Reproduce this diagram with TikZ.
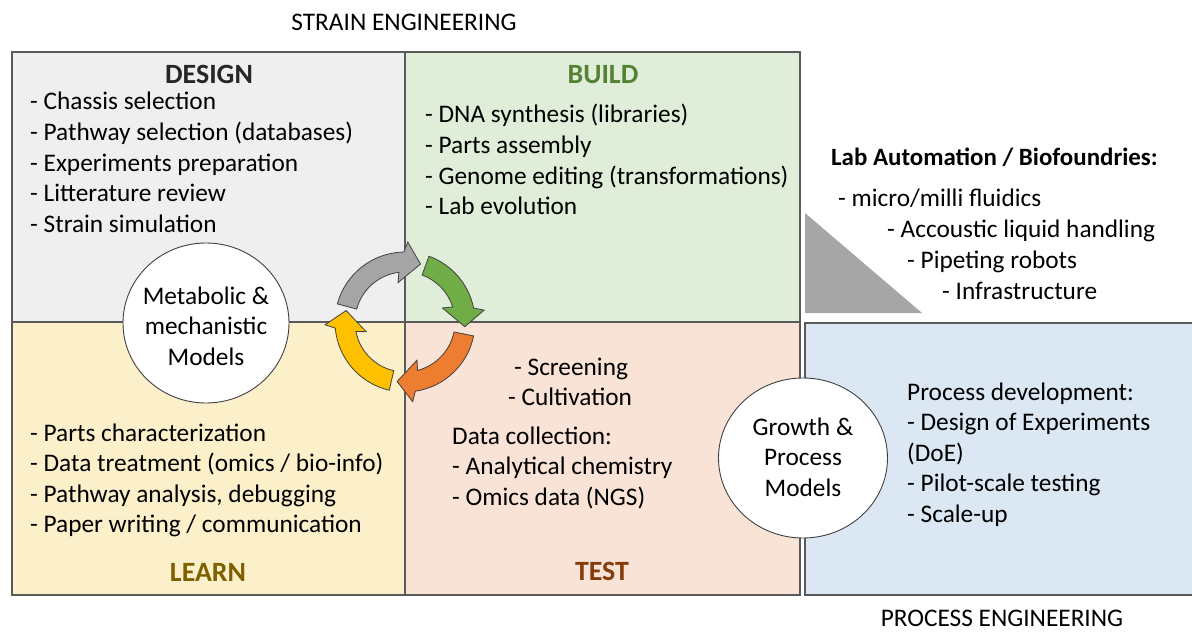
\documentclass[tikz,border=0pt]{standalone}
\usepackage{fontspec}
\setmainfont{Carlito}
\usetikzlibrary{calc,shapes.geometric}
\definecolor{designfill}{HTML}{EFEFEF}
\definecolor{buildfill}{HTML}{E0EDD8}
\definecolor{learnfill}{HTML}{FCF0CB}
\definecolor{testfill}{HTML}{F8E3D6}
\definecolor{procfill}{HTML}{DBE7F3}
\definecolor{framec}{HTML}{5A5A5A}
\definecolor{buildc}{HTML}{548235}
\definecolor{learnc}{HTML}{7F6000}
\definecolor{testc}{HTML}{843C0C}
\definecolor{trigray}{HTML}{A6A6A6}
\definecolor{agray}{HTML}{A5A5A5}
\definecolor{agreen}{HTML}{70AD47}
\definecolor{aorange}{HTML}{ED7D31}
\definecolor{ayellow}{HTML}{FFC000}
\newcommand\cycarr[3]{%
  \pgfmathsetmacro\ob{#3-13}%
  \pgfmathsetmacro\bo{#3-16}%
  \pgfmathsetmacro\ib{#3-25}%
  \pgfmathsetmacro\bi{#3-22}%
  \filldraw[cycstyle, fill=#1] ($(C)+(#2:70)$) arc[start angle=#2, end angle=\bo, radius=70]
    -- ($(C)+(\ob:80)$) -- ($(C)+(#3:60)$) -- ($(C)+(\ib:40)$) -- ($(C)+(\bi:50)$)
    arc[start angle=\bi, end angle=#2, radius=50] -- cycle;
}
\begin{document}
\begin{tikzpicture}[x=1bp,y=-1bp,
  txt/.style={font=\fontsize{25.4}{30.5}\selectfont, inner sep=0pt, anchor=base west},
  ctxt/.style={font=\fontsize{25.4}{30.5}\selectfont, inner sep=0pt, anchor=base},
  head/.style={font=\fontsize{28}{32}\selectfont\bfseries, inner sep=0pt, anchor=base},
  frame/.style={draw=framec, line width=1.5bp},
  cycstyle/.style={draw=black!75, line width=0.8bp, line join=miter},
  model/.style={draw=black!75, fill=white, line width=0.9bp, ellipse, inner sep=0pt}
]
\useasboundingbox (0,0) rectangle (1192,633);
\clip (0,0) rectangle (1192,633);
\fill[white] (0,0) rectangle (1192,633);
% quadrants
\fill[designfill] (12,52) rectangle (405,322);
\fill[buildfill] (405,52) rectangle (800,322);
\fill[learnfill] (12,322) rectangle (405,595);
\fill[testfill] (405,322) rectangle (800,595);
\draw[frame] (12,52) rectangle (800,595);
\draw[frame] (405,52) -- (405,595);
\draw[frame] (12,322) -- (800,322);
% process box
\filldraw[frame, fill=procfill] (805,323) rectangle (1197,595);
% triangle
\fill[trigray] (805,213) -- (805,313) -- (922,313) -- cycle;
% cycle arrows
\coordinate (C) at (405,322);
\cycarr{agray}{-165}{-75}
\cycarr{agreen}{-70}{4.5}
\cycarr{aorange}{11.5}{97.5}
\cycarr{ayellow}{103}{191}
% models
\node[model, minimum width=166bp, minimum height=160bp] (mm) at (206,323) {};
\node[ctxt, align=center, anchor=center] (mmt) at (206,326) {Metabolic \&\\mechanistic\\Models};
\node[model, minimum width=169bp, minimum height=160bp] (gp) at (803,458) {};
\node[ctxt, align=center, anchor=center] (gpt) at (803,457) {Growth \&\\Process\\Models};
% titles
\node[ctxt] (strain) at (404,31) {STRAIN ENGINEERING};
\node[ctxt] (process) at (1002,626) {PROCESS ENGINEERING};
% design
\node[head, text=black!85] (design) at (209,84) {DESIGN};
\foreach \t [count=\i] in {Chassis selection, Pathway selection (databases), Experiments preparation, Litterature review, Strain simulation}
  \node[txt] (d\i) at (30,{110+30.6*(\i-1)}) {- \t};
% build
\node[head, text=buildc] (build) at (603,84) {BUILD};
\foreach \t [count=\i] in {DNA synthesis (libraries), Parts assembly, Genome editing (transformations), Lab evolution}
  \node[txt] (b\i) at (425,{123+30.6*(\i-1)}) {- \t};
% lab automation
\node[head, anchor=base west, font=\fontsize{25}{30}\selectfont\bfseries] (lab) at (831,166) {Lab Automation / Biofoundries:};
\node[txt] (la1) at (838,207) {- micro/milli fluidics};
\node[txt] (la2) at (887,238) {- Accoustic liquid handling};
\node[txt] (la3) at (907,269) {- Pipeting robots};
\node[txt] (la4) at (942,299.5) {- Infrastructure};
% test
\node[txt] (t1) at (514,375) {- Screening};
\node[txt] (t2) at (508,405) {- Cultivation};
\node[txt] (t3) at (452,444) {Data collection:};
\node[txt] (t4) at (452,474.5) {- Analytical chemistry};
\node[txt] (t5) at (452,505) {- Omics data (NGS)};
\node[head, text=testc] (test) at (602,580) {TEST};
% learn
\foreach \t [count=\i] in {Parts characterization, Data treatment (omics / bio-info), {Pathway analysis, debugging}, Paper writing / communication}
  \node[txt] (l\i) at (30,{441+30.6*(\i-1)}) {- \t};
\node[head, text=learnc] (learn) at (208,581) {LEARN};
% process
\node[txt] (p0) at (907,400) {Process development:};
\node[txt] (p1) at (907,430.5) {- Design of Experiments};
\node[txt] (p2) at (907,461) {(DoE)};
\node[txt] (p3) at (907,491.5) {- Pilot-scale testing};
\node[txt] (p4) at (907,522) {- Scale-up};
\end{tikzpicture}
\end{document}
